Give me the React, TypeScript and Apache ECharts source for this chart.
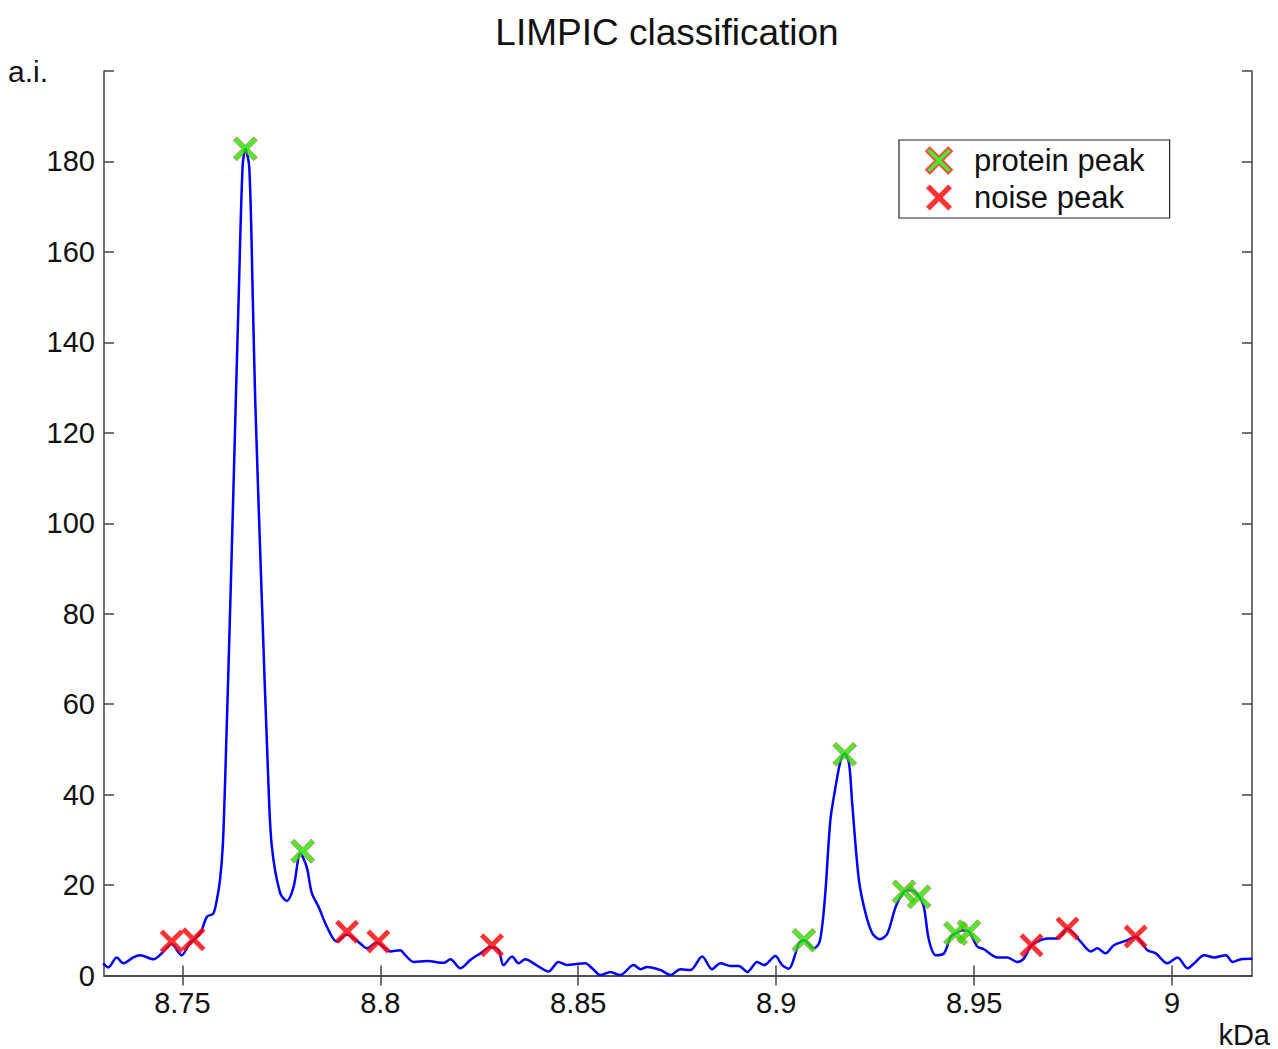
import { useEffect, useRef } from 'react'
import * as echarts from 'echarts'

// spectrum trace (kDa, a.i.)
const massKDa = [
  8.7300, 8.7313, 8.7334, 8.7351, 8.7376, 8.7393, 8.7427, 8.7448, 8.7473, 8.7498,
  8.7519, 8.7545, 8.7562, 8.7578, 8.7587, 8.7595, 8.7602, 8.7608, 8.7621, 8.7635,
  8.7642, 8.7652, 8.7659, 8.7669, 8.7678, 8.7684, 8.7700, 8.7717, 8.7726, 8.7747,
  8.7764, 8.7781, 8.7798, 8.7814, 8.7827, 8.7844, 8.7865, 8.7890, 8.7916, 8.7949,
  8.7966, 8.7991, 8.8025, 8.8050, 8.8063, 8.8084, 8.8118, 8.8160, 8.8177, 8.8202,
  8.8227, 8.8253, 8.8278, 8.8299, 8.8311, 8.8333, 8.8349, 8.8366, 8.8396, 8.8425,
  8.8450, 8.8472, 8.8501, 8.8518, 8.8535, 8.8556, 8.8581, 8.8606, 8.8640, 8.8657,
  8.8674, 8.8708, 8.8733, 8.8758, 8.8783, 8.8813, 8.8838, 8.8859, 8.8885, 8.8906,
  8.8927, 8.8952, 8.8969, 8.8998, 8.9015, 8.9032, 8.9049, 8.9057, 8.9070, 8.9095,
  8.9110, 8.9123, 8.9137, 8.9150, 8.9163, 8.9173, 8.9184, 8.9192, 8.9209, 8.9226,
  8.9243, 8.9262, 8.9281, 8.9302, 8.9323, 8.9340, 8.9361, 8.9373, 8.9386, 8.9403,
  8.9424, 8.9441, 8.9453, 8.9470, 8.9487, 8.9508, 8.9525, 8.9559, 8.9584, 8.9609,
  8.9626, 8.9645, 8.9668, 8.9685, 8.9710, 8.9736, 8.9769, 8.9795, 8.9811, 8.9832,
  8.9853, 8.9887, 8.9908, 8.9938, 8.9959, 8.9988, 9.0014, 9.0039, 9.0056, 9.0081,
  9.0106, 9.0136, 9.0153, 9.0174, 9.0203,
]

const intensity = [
  2.7, 1.8, 4.0, 2.7, 4.0, 4.5, 3.6, 4.9, 6.9, 4.5,
  7.1, 9.3, 13.0, 13.7, 16.7, 21.1, 28.5, 43.2, 82, 127.2,
  149.3, 178.7, 182.8, 178.7, 149.3, 127.2, 85, 43.2, 28.5, 18.2,
  16.5, 19.6, 27.0, 24.0, 18.2, 15.2, 10.8, 7.5, 9.0, 7.1,
  6.0, 7.3, 5.3, 5.6, 4.5, 3.0, 3.2, 2.8, 3.6, 1.6,
  3.4, 4.9, 6.3, 5.6, 2.3, 4.2, 2.7, 3.6, 2.2, 0.9,
  3.0, 2.3, 2.6, 2.7, 1.6, 0.1, 0.8, 0.1, 2.3, 1.4,
  1.9, 1.2, 0.1, 1.4, 1.2, 4.2, 1.4, 2.7, 2.1, 2.1,
  0.8, 3.0, 2.3, 4.3, 2.3, 1.5, 4.9, 7.1, 7.8, 6.0,
  7.5, 17, 34.4, 41.7, 47.6, 49.1, 46.9, 38.1, 21.1, 13.7,
  9.3, 8.0, 9.3, 15.2, 18.5, 18.9, 17.4, 15.2, 7.8, 4.5,
  4.9, 8.6, 9.3, 10.0, 9.7, 6.4, 5.8, 4.0, 4.0, 3.0,
  3.8, 6.7, 7.8, 8.2, 8.2, 10.4, 7.5, 5.3, 6.0, 4.9,
  6.7, 7.8, 8.6, 5.6, 4.9, 2.7, 4.0, 1.6, 2.7, 4.5,
  4.0, 4.5, 3.0, 3.6, 3.7,
]

const proteinMass = [8.7659, 8.7804, 8.9070, 8.9173, 8.9323, 8.9361, 8.9453, 8.9487]
const proteinIntensity = [182.8, 27.5, 7.8, 48.9, 18.5, 17.4, 9.3, 9.7]

const noiseMass = [8.7473, 8.7528, 8.7916, 8.7995, 8.8282, 8.9645, 8.9736, 8.9908]
const noiseIntensity = [7.5, 8.0, 9.7, 7.5, 6.7, 6.7, 10.4, 8.6]

const xTicks = [8.75, 8.8, 8.85, 8.9, 8.95, 9]

const FONT = '"Liberation Sans", Arial, Helvetica, sans-serif'
const X_PATH =
  'path://M0,3.5L3.5,0L12,8.5L20.5,0L24,3.5L15.5,12L24,20.5L20.5,24L12,15.5L3.5,24L0,20.5L8.5,12Z'

const zip = (xs: number[], ys: number[]) => xs.map((x, i) => [x, ys[i]])

export default function App() {
  const chartRef = useRef<HTMLDivElement>(null)

  useEffect(() => {
    if (!chartRef.current) return
    const chart = echarts.init(chartRef.current, null, { renderer: 'svg' })

    const axisLine = { show: true, lineStyle: { color: '#444', width: 1.5 } }
    const tickStyle = { color: '#444', width: 1.5 }

    const option: echarts.EChartsOption = {
      animation: false,
      backgroundColor: '#fff',
      textStyle: { fontFamily: FONT },
      title: {
        text: 'LIMPIC classification',
        left: 662,
        top: 9,
        textAlign: 'center',
        textStyle: { fontSize: 37, fontWeight: 'normal', color: '#111', fontFamily: FONT },
      },
      grid: { left: 104, right: 26, top: 71, bottom: 73.5 },
      legend: {
        orient: 'vertical',
        left: 899,
        top: 140,
        padding: [5, 25, 5, 26],
        itemWidth: 26,
        itemHeight: 26,
        itemGap: 6,
        borderColor: '#222',
        borderWidth: 1.2,
        backgroundColor: '#fff',
        selectedMode: false,
        textStyle: {
          fontSize: 31,
          lineHeight: 30,
          color: '#111',
          fontFamily: FONT,
          padding: [0, 0, 0, 17],
        },
        data: [
          { name: 'protein peak', icon: X_PATH },
          { name: 'noise peak', icon: X_PATH },
        ],
      },
      xAxis: [
        {
          type: 'value',
          position: 'bottom',
          min: 8.7302,
          max: 9.0202,
          axisLine,
          splitLine: { show: false },
          axisTick: { inside: true, length: 10, lineStyle: tickStyle, customValues: xTicks },
          axisLabel: {
            customValues: xTicks,
            margin: 13,
            fontSize: 29,
            color: '#111',
            fontFamily: FONT,
            formatter: (v: number) => String(v),
          },
        },
        {
          type: 'value',
          position: 'top',
          min: 8.7302,
          max: 9.0202,
          axisLine,
          splitLine: { show: false },
          axisTick: { inside: true, length: 10, lineStyle: tickStyle, customValues: xTicks },
          axisLabel: { show: false },
        },
      ],
      yAxis: [
        {
          type: 'value',
          position: 'left',
          min: 0,
          max: 200,
          interval: 20,
          axisLine,
          splitLine: { show: false },
          axisTick: { inside: true, length: 10, lineStyle: tickStyle },
          axisLabel: {
            margin: 9,
            fontSize: 29,
            color: '#111',
            fontFamily: FONT,
            formatter: (v: number) => (v >= 200 ? '' : String(v)),
          },
        },
        {
          type: 'value',
          position: 'right',
          min: 0,
          max: 200,
          interval: 20,
          axisLine,
          splitLine: { show: false },
          axisTick: { inside: true, length: 10, lineStyle: tickStyle },
          axisLabel: { show: false },
        },
      ],
      graphic: [
        {
          type: 'text',
          left: 8,
          top: 56,
          style: { text: 'a.i.', fill: '#111', font: `30px ${FONT}` },
        },
        {
          type: 'text',
          right: 8,
          top: 1020,
          style: { text: 'kDa', fill: '#111', font: `29px ${FONT}` },
        },
      ],
      series: [
        {
          name: 'spectrum',
          type: 'line',
          data: zip(massKDa, intensity),
          showSymbol: false,
          smooth: 0.3,
          lineStyle: { color: '#0000ff', width: 2.5 },
          z: 2,
        },
        {
          name: 'noise peak',
          type: 'scatter',
          data: zip(noiseMass, noiseIntensity),
          symbol: X_PATH,
          symbolSize: 24,
          itemStyle: { color: '#ff0000', borderWidth: 0 },
          z: 3,
        },
        {
          name: 'protein peak',
          type: 'scatter',
          data: zip(proteinMass, proteinIntensity),
          symbol: X_PATH,
          symbolSize: 24,
          itemStyle: { color: '#1ee800', borderColor: '#ff3030', borderWidth: 0.7 },
          z: 4,
        },
      ],
    }

    chart.setOption(option)
    return () => {
      chart.dispose()
    }
  }, [])

  return (
    <div
      ref={chartRef}
      style={{ position: 'absolute', left: 0, top: 0, width: 1278, height: 1049 }}
    />
  )
}
